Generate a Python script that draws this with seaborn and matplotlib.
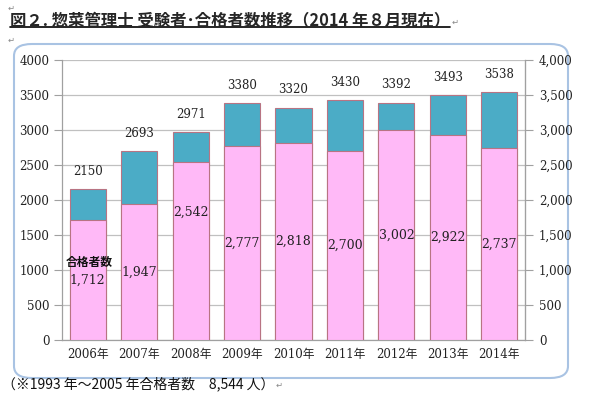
import numpy as np
import pandas as pd
import matplotlib
matplotlib.use("Agg")
import matplotlib.pyplot as plt
import seaborn as sns
from matplotlib.patches import FancyBboxPatch
from matplotlib.ticker import FixedLocator

# data
years = ['2006年', '2007年', '2008年', '2009年', '2010年', '2011年', '2012年', '2013年', '2014年']
examinees = [2150, 2693, 2971, 3380, 3320, 3430, 3392, 3493, 3538]
passed = [1712, 1947, 2542, 2777, 2818, 2700, 3002, 2922, 2737]

df = pd.DataFrame({'year': years, 'examinees': examinees, 'passed': passed})

sns.set_style("white")
serif = ['DejaVu Serif', 'Noto Sans CJK JP']
gothic = ['Noto Sans CJK JP', 'DejaVu Sans']
plt.rcParams['font.family'] = serif

teal = '#4BACC6'
pink = '#FFB9F7'
edge = '#B87483'

fig = plt.figure(figsize=(5.98, 3.96), dpi=100)

# rounded frame around the chart
frame = FancyBboxPatch((14 / 598, 1 - 378 / 396), 554 / 598, 334 / 396,
                       boxstyle="round,pad=0,rounding_size=0.03",
                       transform=fig.transFigure, facecolor='white',
                       edgecolor='#A9C3E3', linewidth=1.5, zorder=-5)
fig.patches.append(frame)

ax = fig.add_axes([62 / 598, 1 - 340 / 396, 463 / 598, 280 / 396])
ax.set_facecolor('none')

sns.barplot(data=df, x='year', y='examinees', color=teal, width=0.7,
            edgecolor=edge, linewidth=0.8, saturation=1, ax=ax, zorder=3)
sns.barplot(data=df, x='year', y='passed', color=pink, width=0.7,
            edgecolor=edge, linewidth=0.8, saturation=1, ax=ax, zorder=4)

yt = np.arange(0, 4001, 500)
ax.set_xlim(-0.5, len(years) - 0.5)
ax.set_ylim(0, 4000)
ax.set_yticks(yt, labels=[f'{v}' for v in yt], fontfamily=serif)
ax.set_xticks(range(len(years)), labels=years, fontfamily=serif)
ax.set_xlabel('')
ax.set_ylabel('')
ax.yaxis.grid(True, color='#C0C0C0', linewidth=0.9, zorder=0)
ax.set_axisbelow(True)

ax.spines['top'].set_visible(False)
for s in ['left', 'right', 'bottom']:
    ax.spines[s].set_color('#A0A0A0')
    ax.spines[s].set_linewidth(0.9)

ax.tick_params(axis='y', length=6, color='#A0A0A0', labelsize=8.5, pad=3, labelcolor='#222222')
ax.tick_params(axis='x', which='major', length=0, labelsize=8.5, pad=6, labelcolor='#222222')
ax.xaxis.set_minor_locator(FixedLocator(np.arange(-0.5, len(years), 1)))
ax.tick_params(axis='x', which='minor', length=4, color='#A0A0A0')

ax2 = ax.twinx()
ax2.set_ylim(0, 4000)
ax2.set_yticks(yt, labels=[f'{v:,}' for v in yt], fontfamily=serif)
ax2.tick_params(axis='y', length=6, color='#A0A0A0', labelsize=8.5, pad=4, labelcolor='#222222')
for s in ['top', 'left', 'bottom']:
    ax2.spines[s].set_visible(False)
ax2.spines['right'].set_color('#A0A0A0')

# totals above bars
for i, v in enumerate(examinees):
    ax.annotate(f'{v}', (i, v), xytext=(0, 8), textcoords='offset points',
                ha='center', va='bottom', fontsize=8.5, color='#222222', zorder=6)

# passed counts inside pink bars
for i, v in enumerate(passed):
    dy = 28 if i == 2 else 0
    ax.annotate(f'{v:,}', (i, v / 2), xytext=(0, dy), textcoords='offset points',
                ha='center', va='center', fontsize=9, color='#222222', zorder=6)
ax.annotate('合格者数', (0, passed[0] / 2), xytext=(1, 13), textcoords='offset points',
            ha='center', va='center', fontsize=8.5, fontweight='bold',
            family=gothic, color='#111111', zorder=6)

# title, footnote, return marks
title = fig.text(10 / 598, 1 - 20 / 396, '図２. 惣菜管理士 受験者･合格者数推移（2014 年８月現在）',
                 family=gothic, fontsize=11.8, fontweight='bold', va='center', ha='left')
fig.canvas.draw()
bb = title.get_window_extent().transformed(fig.transFigure.inverted())
fig.add_artist(plt.Line2D([bb.x0, bb.x1], [bb.y0 + 0.004, bb.y0 + 0.004],
                          transform=fig.transFigure, color='black', linewidth=1.2))
fig.text(bb.x1 + 0.003, 1 - 22 / 396, '↵', family=['DejaVu Sans'], fontsize=6,
         color='#888888', va='center')
fig.text(8 / 598, 1 - 8 / 396, '↵', family=['DejaVu Sans'], fontsize=6, color='#888888', va='center')
fig.text(8 / 598, 1 - 40 / 396, '↵', family=['DejaVu Sans'], fontsize=6, color='#888888', va='center')

foot = fig.text(2 / 598, 1 - 384 / 396, '（※1993 年～2005 年合格者数　8,544 人）',
                family=gothic, fontsize=10, va='center', ha='left', color='#111111')
fig.canvas.draw()
fb = foot.get_window_extent().transformed(fig.transFigure.inverted())
fig.text(fb.x1 + 0.002, 1 - 385 / 396, '↵', family=['DejaVu Sans'], fontsize=6,
         color='#888888', va='center')

fig.savefig('out.png', dpi=100)
